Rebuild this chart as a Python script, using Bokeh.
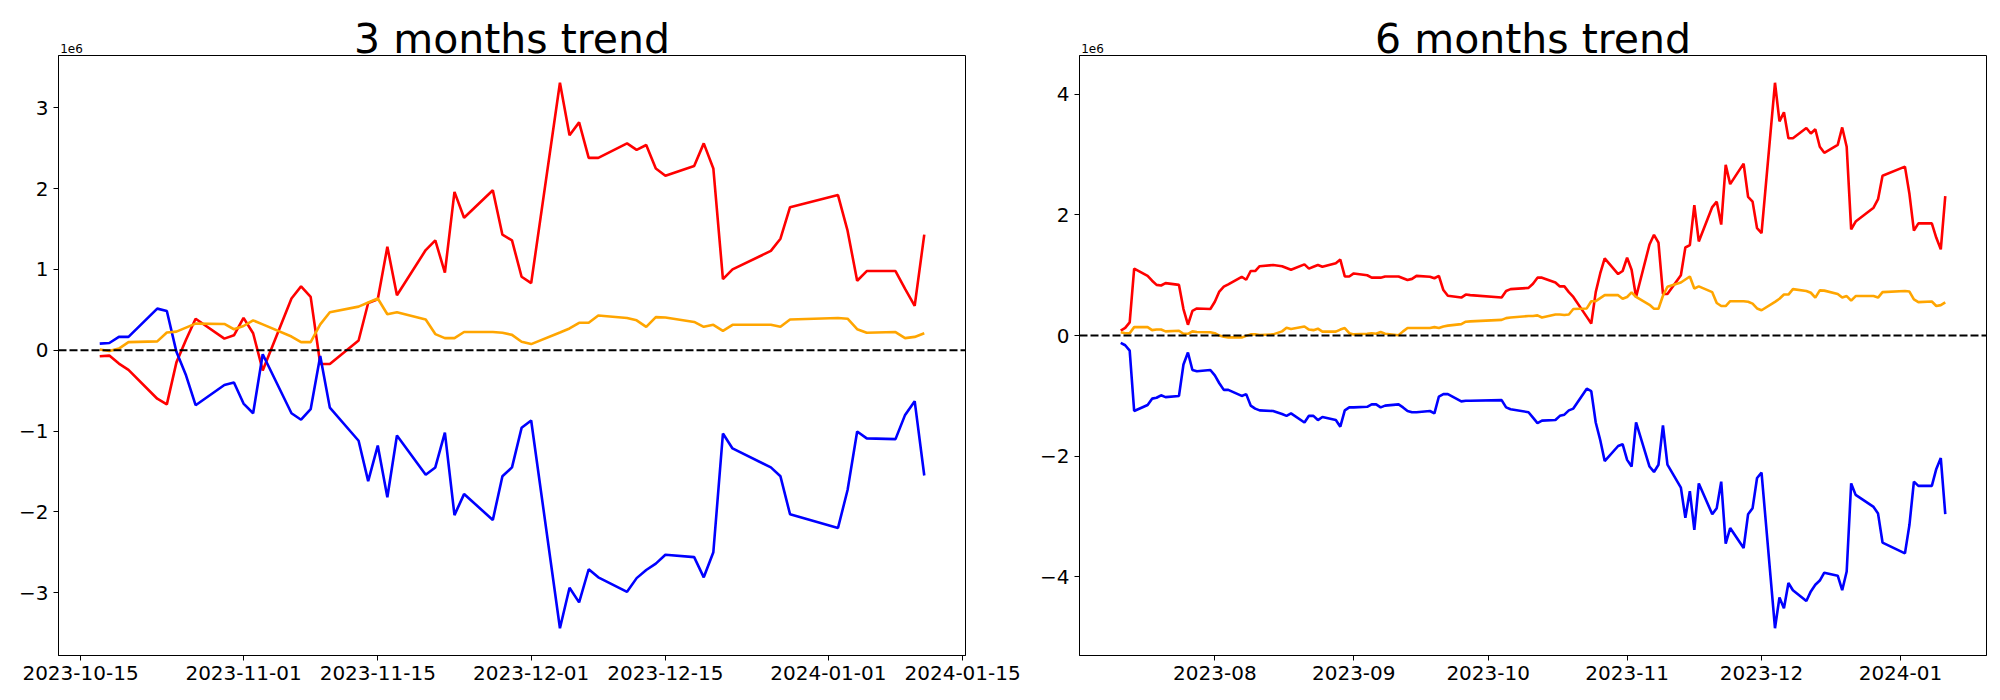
import pandas as pd
from bokeh.plotting import figure
from bokeh.models import (Range1d, FixedTicker, DatetimeTickFormatter,
                          CustomJSTickFormatter, Span, Title)
from bokeh.layouts import row
from bokeh.embed import file_html
from bokeh.resources import INLINE

# ---------------- data (values in units of 1e6) ----------------
DATES_3M = [
    "2023-10-17", "2023-10-18", "2023-10-19", "2023-10-20", "2023-10-23", "2023-10-24",
    "2023-10-25", "2023-10-26", "2023-10-27", "2023-10-30", "2023-10-31",
    "2023-11-01", "2023-11-02", "2023-11-03", "2023-11-06", "2023-11-07", "2023-11-08",
    "2023-11-09", "2023-11-10", "2023-11-13", "2023-11-14", "2023-11-15", "2023-11-16",
    "2023-11-17", "2023-11-20", "2023-11-21", "2023-11-22", "2023-11-23", "2023-11-24",
    "2023-11-27", "2023-11-28", "2023-11-29", "2023-11-30",
    "2023-12-01", "2023-12-04", "2023-12-05", "2023-12-06", "2023-12-07", "2023-12-08",
    "2023-12-11", "2023-12-12", "2023-12-13", "2023-12-14", "2023-12-15", "2023-12-18",
    "2023-12-19", "2023-12-20", "2023-12-21", "2023-12-22", "2023-12-26", "2023-12-27",
    "2023-12-28",
    "2024-01-02", "2024-01-03", "2024-01-04", "2024-01-05", "2024-01-08", "2024-01-09",
    "2024-01-10", "2024-01-11",
]
RED_3M = [
    -0.074, -0.066, -0.165, -0.243, -0.60, -0.67, -0.15, 0.13, 0.39, 0.144, 0.185,
    0.40, 0.21, -0.25, 0.64, 0.79, 0.66, -0.17, -0.17, 0.12, 0.585, 0.63, 1.28,
    0.68, 1.24, 1.36, 0.96, 1.96, 1.64, 1.98, 1.43, 1.36, 0.91,
    0.83, 3.31, 2.66, 2.82, 2.38, 2.38, 2.56, 2.48, 2.54, 2.25, 2.16, 2.28,
    2.56, 2.25, 0.88, 1.00, 1.23, 1.38, 1.77,
    1.92, 1.48, 0.86, 0.98, 0.98, 0.76, 0.55, 1.43,
]
BLUE_3M = [
    0.082, 0.09, 0.165, 0.165, 0.515, 0.486, -0.02, -0.31, -0.68, -0.43, -0.40,
    -0.66, -0.78, -0.05, -0.78, -0.86, -0.73, -0.07, -0.71, -1.12, -1.62, -1.18, -1.82,
    -1.055, -1.54, -1.45, -1.02, -2.04, -1.78, -2.10, -1.56, -1.45, -0.96,
    -0.87, -3.44, -2.94, -3.12, -2.71, -2.81, -2.99, -2.82, -2.72, -2.64, -2.53, -2.56,
    -2.81, -2.50, -1.03, -1.215, -1.45, -1.56, -2.03,
    -2.20, -1.73, -1.005, -1.09, -1.10, -0.80, -0.63, -1.55,
]
ORANGE_3M = [
    0.01, -0.01, 0.02, 0.10, 0.11, 0.22, 0.23, 0.28, 0.33, 0.325, 0.26,
    0.30, 0.37, 0.32, 0.17, 0.10, 0.10, 0.32, 0.47, 0.54, 0.59, 0.64, 0.445,
    0.47, 0.38, 0.20, 0.15, 0.15, 0.226, 0.226, 0.216, 0.19, 0.105,
    0.076, 0.22, 0.27, 0.34, 0.34, 0.43, 0.40, 0.37, 0.29, 0.41, 0.405, 0.35,
    0.29, 0.315, 0.24, 0.315, 0.315, 0.29, 0.38,
    0.40, 0.39, 0.26, 0.216, 0.225, 0.15, 0.165, 0.21,
]

DATES_6M = [
    "2023-07-11", "2023-07-12", "2023-07-13", "2023-07-14", "2023-07-17", "2023-07-18",
    "2023-07-19", "2023-07-20", "2023-07-21", "2023-07-24", "2023-07-25", "2023-07-26",
    "2023-07-27", "2023-07-28", "2023-07-31",
    "2023-08-01", "2023-08-02", "2023-08-03", "2023-08-04", "2023-08-07", "2023-08-08",
    "2023-08-09", "2023-08-10", "2023-08-11", "2023-08-14", "2023-08-16", "2023-08-17",
    "2023-08-18", "2023-08-21", "2023-08-22", "2023-08-23", "2023-08-24", "2023-08-25",
    "2023-08-28", "2023-08-29", "2023-08-30", "2023-08-31",
    "2023-09-01", "2023-09-04", "2023-09-05", "2023-09-06", "2023-09-07", "2023-09-08",
    "2023-09-11", "2023-09-12", "2023-09-13", "2023-09-14", "2023-09-15", "2023-09-18",
    "2023-09-19", "2023-09-20", "2023-09-21", "2023-09-22", "2023-09-25", "2023-09-26",
    "2023-09-27",
    "2023-10-04", "2023-10-05", "2023-10-06", "2023-10-10", "2023-10-11", "2023-10-12",
    "2023-10-13", "2023-10-16", "2023-10-17", "2023-10-18", "2023-10-19", "2023-10-20",
    "2023-10-23", "2023-10-24", "2023-10-25", "2023-10-26", "2023-10-27", "2023-10-30",
    "2023-10-31",
    "2023-11-01", "2023-11-02", "2023-11-03", "2023-11-06", "2023-11-07", "2023-11-08",
    "2023-11-09", "2023-11-10", "2023-11-13", "2023-11-14", "2023-11-15", "2023-11-16",
    "2023-11-17", "2023-11-20", "2023-11-21", "2023-11-22", "2023-11-23", "2023-11-24",
    "2023-11-27", "2023-11-28", "2023-11-29", "2023-11-30",
    "2023-12-01", "2023-12-04", "2023-12-05", "2023-12-06", "2023-12-07", "2023-12-08",
    "2023-12-11", "2023-12-12", "2023-12-13", "2023-12-14", "2023-12-15", "2023-12-18",
    "2023-12-19", "2023-12-20", "2023-12-21", "2023-12-22", "2023-12-26", "2023-12-27",
    "2023-12-28",
    "2024-01-02", "2024-01-03", "2024-01-04", "2024-01-05", "2024-01-08", "2024-01-09",
    "2024-01-10", "2024-01-11",
]
RED_6M = [
    0.083, 0.127, 0.22, 1.11, 0.99, 0.91, 0.84, 0.83, 0.87, 0.84, 0.44, 0.18, 0.41, 0.45, 0.44,
    0.56, 0.73, 0.81, 0.85, 0.975, 0.925, 1.07, 1.07, 1.15, 1.17, 1.15, 1.12, 1.09, 1.18,
    1.11, 1.14, 1.17, 1.14, 1.20, 1.26, 0.98, 0.98,
    1.03, 1.00, 0.96, 0.96, 0.96, 0.98, 0.98, 0.95, 0.92, 0.94, 0.99, 0.975, 0.95, 0.99,
    0.755, 0.66, 0.63, 0.68, 0.67,
    0.63, 0.74, 0.77, 0.79, 0.86, 0.96, 0.96, 0.88, 0.815, 0.815, 0.72, 0.64, 0.31, 0.20,
    0.72, 1.03, 1.28, 1.02, 1.07,
    1.29, 1.09, 0.64, 1.51, 1.67, 1.54, 0.69, 0.69, 1.00, 1.46, 1.50, 2.16, 1.56, 2.13,
    2.22, 1.84, 2.83, 2.51, 2.85, 2.30, 2.22, 1.78,
    1.70, 4.19, 3.55, 3.70, 3.27, 3.27, 3.44, 3.35, 3.42, 3.13, 3.03, 3.16, 3.45, 3.13,
    1.76, 1.89, 2.12, 2.26, 2.65,
    2.80, 2.35, 1.74, 1.86, 1.86, 1.62, 1.43, 2.31,
]
BLUE_6M = [
    -0.12, -0.16, -0.25, -1.25, -1.15, -1.045, -1.03, -0.99, -1.02, -1.00, -0.48, -0.28,
    -0.57, -0.59, -0.57,
    -0.66, -0.79, -0.90, -0.90, -1.00, -0.97, -1.16, -1.21, -1.24, -1.25, -1.30, -1.33,
    -1.29, -1.44, -1.33, -1.33, -1.40, -1.35, -1.40, -1.51, -1.24, -1.19,
    -1.19, -1.18, -1.14, -1.14, -1.19, -1.16, -1.14, -1.19, -1.25, -1.27, -1.27, -1.25,
    -1.29, -1.01, -0.97, -0.97, -1.09, -1.08, -1.08,
    -1.07, -1.19, -1.22, -1.27, -1.36, -1.45, -1.41, -1.40, -1.33, -1.31, -1.24, -1.21,
    -0.88, -0.92, -1.44, -1.73, -2.08, -1.83, -1.80,
    -2.06, -2.17, -1.44, -2.17, -2.26, -2.14, -1.49, -2.14, -2.52, -3.02, -2.58, -3.22,
    -2.45, -2.96, -2.86, -2.42, -3.45, -3.19, -3.52, -2.96, -2.86, -2.36,
    -2.27, -4.85, -4.34, -4.52, -4.10, -4.22, -4.40, -4.24, -4.13, -4.06, -3.93, -3.98,
    -4.22, -3.91, -2.45, -2.64, -2.84, -2.95, -3.43,
    -3.61, -3.14, -2.42, -2.49, -2.49, -2.21, -2.03, -2.96,
]
ORANGE_6M = [
    0.055, 0.04, 0.04, 0.14, 0.14, 0.09, 0.10, 0.10, 0.07, 0.08, 0.03, 0.03, 0.07, 0.06, 0.055,
    0.04, 0.00, -0.02, -0.03, -0.03, -0.005, 0.02, 0.02, 0.01, 0.02, 0.07, 0.13, 0.11, 0.15,
    0.10, 0.09, 0.115, 0.065, 0.065, 0.10, 0.125, 0.04,
    0.02, 0.03, 0.04, 0.03, 0.06, 0.03, 0.005, 0.07, 0.125, 0.125, 0.125, 0.125, 0.14, 0.125,
    0.15, 0.165, 0.19, 0.23, 0.235,
    0.26, 0.29, 0.30, 0.325, 0.325, 0.335, 0.30, 0.35, 0.35, 0.34, 0.35, 0.44, 0.45, 0.57,
    0.57, 0.62, 0.67, 0.67, 0.61,
    0.64, 0.715, 0.64, 0.51, 0.445, 0.445, 0.66, 0.81, 0.88, 0.93, 0.98, 0.78, 0.815, 0.72,
    0.54, 0.49, 0.49, 0.57, 0.57, 0.56, 0.53, 0.45,
    0.42, 0.56, 0.61, 0.68, 0.68, 0.77, 0.74, 0.71, 0.63, 0.75, 0.745, 0.69, 0.63, 0.655,
    0.58, 0.655, 0.655, 0.63, 0.72,
    0.74, 0.73, 0.60, 0.555, 0.565, 0.49, 0.505, 0.55,
]

XTICKS_3M = ["2023-10-15", "2023-11-01", "2023-11-15", "2023-12-01",
             "2023-12-15", "2024-01-01", "2024-01-15"]
XTICKS_6M = ["2023-08-01", "2023-09-01", "2023-10-01", "2023-11-01",
             "2023-12-01", "2024-01-01"]
YTICKS_3M = [-3, -2, -1, 0, 1, 2, 3]
YTICKS_6M = [-4, -2, 0, 2, 4]
OFFSET_TEXT = "1e6"

FONT = "DejaVu Sans"
FRAME_W, FRAME_H = 907, 600
TOP = 55
# layout of the two title panels stacked above the frame
OFF_H = 14.0          # estimated text box height of the 12px offset label
OFF_STANDOFF = 4.4
MAIN_STANDOFF = -2 * (2 + OFF_H + OFF_STANDOFF + 1.7)


def to_ms(s):
    return pd.Timestamp(s).value / 1e6


def make_panel(title, dates, red, blue, orange, xticks, xfmt, yticks,
               border_left, border_right):
    xs = pd.to_datetime(dates)
    xms = [to_ms(d) for d in dates]
    x0, x1 = min(xms), max(xms)
    xpad = 0.05 * (x1 - x0)
    allv = red + blue + orange
    y0, y1 = min(allv), max(allv)
    ypad = 0.05 * (y1 - y0)
    xr = Range1d(x0 - xpad, x1 + xpad)
    yr = Range1d(y0 - ypad, y1 + ypad)

    p = figure(x_axis_type="datetime", x_range=xr, y_range=yr,
               frame_width=FRAME_W, frame_height=FRAME_H,
               output_backend="svg", toolbar_location=None,
               min_border_left=border_left, min_border_right=border_right,
               min_border_top=TOP, min_border_bottom=37)
    p.background_fill_color = "white"
    p.border_fill_color = "white"
    p.outline_line_color = "black"
    p.outline_line_width = 1
    p.xgrid.visible = False
    p.ygrid.visible = False
    p.title.text = ""

    # offset text ("1e6"), nearest the frame, left aligned
    p.add_layout(Title(text=OFFSET_TEXT, align="left", offset=1.7,
                       standoff=OFF_STANDOFF, text_font=FONT,
                       text_font_size="12px", text_font_style="normal",
                       text_color="black"), "above")
    # main title, stacked above it but drawn down to the frame via standoff
    p.add_layout(Title(text=title, align="center", standoff=MAIN_STANDOFF,
                       text_font=FONT, text_font_size="41px",
                       text_font_style="normal", text_color="black"), "above")

    p.line(xs, red, line_color="#ff0000", line_width=2.6)
    p.line(xs, blue, line_color="#0000ff", line_width=2.6)
    p.line(xs, orange, line_color="#ffa500", line_width=2.6)
    p.add_layout(Span(location=0, dimension="width", line_color="black",
                      line_dash="8 3", line_width=2))

    p.xaxis.ticker = FixedTicker(ticks=[to_ms(t) for t in xticks])
    p.xaxis.formatter = DatetimeTickFormatter(
        days=xfmt, months=xfmt, years=xfmt, hours=xfmt, hourmin=xfmt,
        minutes=xfmt, minsec=xfmt, seconds=xfmt, milliseconds=xfmt,
        microseconds=xfmt)
    p.yaxis.ticker = FixedTicker(ticks=yticks)
    p.yaxis.formatter = CustomJSTickFormatter(
        code="return tick < 0 ? '\u2212' + Math.abs(tick) : String(tick);")
    for ax in (p.xaxis[0], p.yaxis[0]):
        ax.axis_line_color = "black"
        ax.axis_line_width = 1
        ax.major_tick_in = 0
        ax.major_tick_out = 5
        ax.major_tick_line_color = "black"
        ax.major_tick_line_width = 1
        ax.minor_tick_line_color = None
        ax.major_label_standoff = 5
        ax.major_label_text_font = FONT
        ax.major_label_text_font_size = "20px"
        ax.major_label_text_color = "black"
    return p


p1 = make_panel("3 months trend", DATES_3M, RED_3M, BLUE_3M, ORANGE_3M,
                XTICKS_3M, "%Y-%m-%d", YTICKS_3M, 58, 60)
p2 = make_panel("6 months trend", DATES_6M, RED_6M, BLUE_6M, ORANGE_6M,
                XTICKS_6M, "%Y-%m", YTICKS_6M, 54, 6)

layout = row(p1, p2, spacing=0)
open("out.html", "w").write(file_html(layout, INLINE))
